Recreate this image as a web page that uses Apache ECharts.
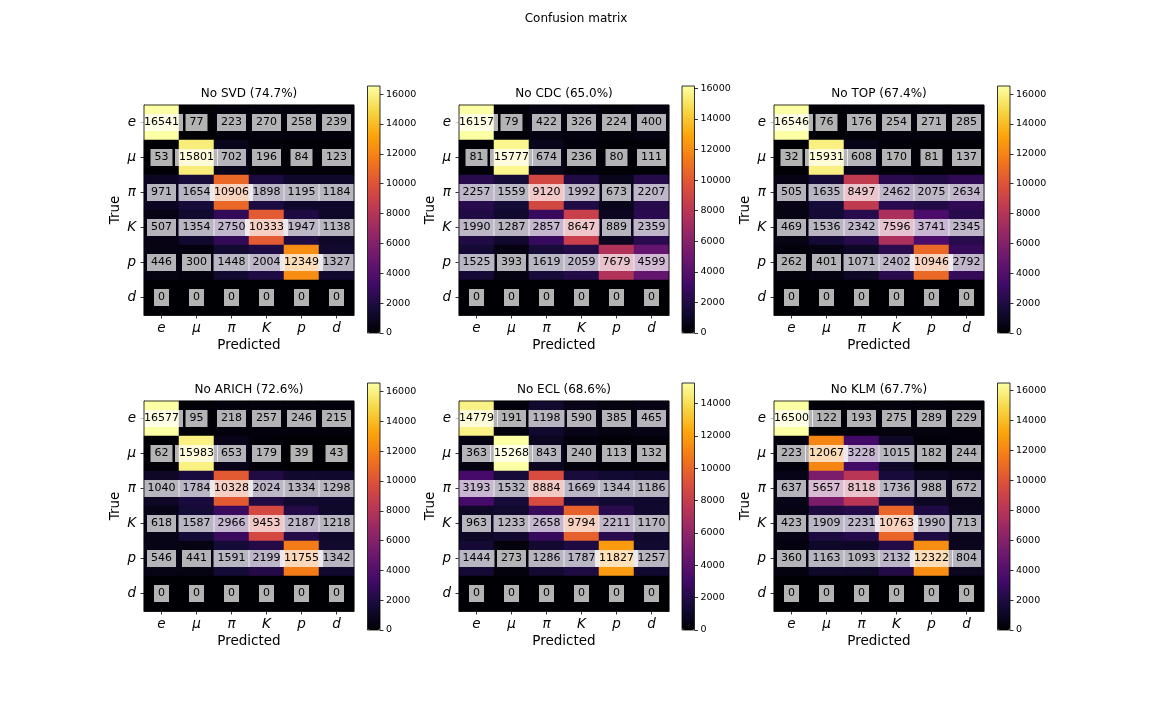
<!DOCTYPE html>
<html><head><meta charset="utf-8">
<script src="https://cdn.jsdelivr.net/npm/echarts@6/dist/echarts.min.js"></script>
<style>html,body{margin:0;padding:0;background:#fff}#c{width:1152px;height:720px}</style>
</head><body><div id="c"></div>
<script>
const classes = ['e', 'μ', 'π', 'K', 'p', 'd'];
const panelTitles = ['No SVD (74.7%)', 'No CDC (65.0%)', 'No TOP (67.4%)', 'No ARICH (72.6%)', 'No ECL (68.6%)', 'No KLM (67.7%)'];

const noSVD = [
  [16541, 77, 223, 270, 258, 239],
  [53, 15801, 702, 196, 84, 123],
  [971, 1654, 10906, 1898, 1195, 1184],
  [507, 1354, 2750, 10333, 1947, 1138],
  [446, 300, 1448, 2004, 12349, 1327],
  [0, 0, 0, 0, 0, 0]
];
const noCDC = [
  [16157, 79, 422, 326, 224, 400],
  [81, 15777, 674, 236, 80, 111],
  [2257, 1559, 9120, 1992, 673, 2207],
  [1990, 1287, 2857, 8647, 889, 2359],
  [1525, 393, 1619, 2059, 7679, 4599],
  [0, 0, 0, 0, 0, 0]
];
const noTOP = [
  [16546, 76, 176, 254, 271, 285],
  [32, 15931, 608, 170, 81, 137],
  [505, 1635, 8497, 2462, 2075, 2634],
  [469, 1536, 2342, 7596, 3741, 2345],
  [262, 401, 1071, 2402, 10946, 2792],
  [0, 0, 0, 0, 0, 0]
];
const noARICH = [
  [16577, 95, 218, 257, 246, 215],
  [62, 15983, 653, 179, 39, 43],
  [1040, 1784, 10328, 2024, 1334, 1298],
  [618, 1587, 2966, 9453, 2187, 1218],
  [546, 441, 1591, 2199, 11755, 1342],
  [0, 0, 0, 0, 0, 0]
];
const noECL = [
  [14779, 191, 1198, 590, 385, 465],
  [363, 15268, 843, 240, 113, 132],
  [3193, 1532, 8884, 1669, 1344, 1186],
  [963, 1233, 2658, 9794, 2211, 1170],
  [1444, 273, 1286, 1787, 11827, 1257],
  [0, 0, 0, 0, 0, 0]
];
const noKLM = [
  [16500, 122, 193, 275, 289, 229],
  [223, 12067, 3228, 1015, 182, 244],
  [637, 5657, 8118, 1736, 988, 672],
  [423, 1909, 2231, 10763, 1990, 713],
  [360, 1163, 1093, 2132, 12322, 804],
  [0, 0, 0, 0, 0, 0]
];
const matrices = [noSVD, noCDC, noTOP, noARICH, noECL, noKLM];
const colorbarStep = 2000;

const inferno = ['#000004', '#160b39', '#420a68', '#6a176e', '#932667', '#bc3754',
  '#dd513a', '#f37819', '#fca50a', '#f6d746', '#fcffa4'];

const FONT = 'DejaVu Sans';
const hmLeft = [144, 459, 774], hmTop = [105, 401], hmSize = 210;
const cbLeft = [367.5, 682, 997.5], cbTop = [86, 383], cbW = 12.5, cbH = 247;

const grid = [], xAxis = [], yAxis = [], series = [], visualMap = [];
const title = [{
  text: 'Confusion matrix', left: 576, top: 13, textAlign: 'center', padding: 0,
  textStyle: { fontFamily: FONT, fontSize: 12, fontWeight: 'normal', color: '#000' }
}];

function matMax(m) {
  let maxV = 0;
  m.forEach(r => r.forEach(v => { if (v > maxV) maxV = v; }));
  return maxV;
}

matrices.forEach((m, i) => {
  const col = i % 3, row = Math.floor(i / 3);
  const maxV = matMax(m);

  grid.push({
    left: hmLeft[col], top: hmTop[row], width: hmSize, height: hmSize,
    show: true, borderColor: '#000', borderWidth: 0.8, backgroundColor: 'transparent', z: 10,
    outerBoundsMode: 'none'
  });
  grid.push({
    left: cbLeft[col], top: cbTop[row], width: cbW, height: cbH,
    show: true, borderColor: '#000', borderWidth: 0.8, backgroundColor: 'transparent', z: 10,
    outerBoundsMode: 'none'
  });
  title.push({
    text: panelTitles[i], left: hmLeft[col] + hmSize / 2, top: hmTop[row] - 17,
    textAlign: 'center', padding: 0,
    textStyle: { fontFamily: FONT, fontSize: 12, fontWeight: 'normal', color: '#000' }
  });
  const data = [];
  m.forEach((r, ri) => r.forEach((v, ci) => data.push([ci, ri, v])));
  series.push({
    type: 'heatmap', xAxisIndex: i, yAxisIndex: i, data: data,
    label: {
      show: true, formatter: p => String(p.value[2]),
      fontFamily: FONT, fontSize: 11, color: '#000',
      backgroundColor: 'rgba(255,255,255,0.7)', padding: [3, 4, 3, 4]
    },
    itemStyle: { borderWidth: 0 },
    emphasis: { disabled: true }
  });
  visualMap.push({
    type: 'continuous', seriesIndex: i, dimension: 2, min: 0, max: maxV,
    left: cbLeft[col], top: cbTop[row], itemWidth: cbW, itemHeight: cbH,
    padding: 0, calculable: false, hoverLink: false, realtime: false,
    inRange: { color: inferno }
  });
});

// heatmap axes: indices 0..5 on grids 0,2,4,...
matrices.forEach((m, i) => {
  xAxis.push({
    type: 'category', gridIndex: 2 * i, data: classes, position: 'bottom',
    name: 'Predicted', nameLocation: 'middle', nameGap: 23.5,
    nameTextStyle: { fontFamily: FONT, fontSize: 13.5, color: '#000' },
    axisLine: { show: true, lineStyle: { color: '#000', width: 0.8 } },
    axisTick: { show: true, alignWithLabel: true, length: 3.5, lineStyle: { color: '#000', width: 0.8 } },
    axisLabel: { fontFamily: FONT, fontSize: 13.5, fontStyle: 'italic', color: '#000', margin: 6 },
    splitLine: { show: false }, splitArea: { show: false }
  });
  yAxis.push({
    type: 'category', gridIndex: 2 * i, data: classes, inverse: true, position: 'left',
    name: 'True', nameLocation: 'middle', nameGap: 22, nameRotate: 90,
    nameTextStyle: { fontFamily: FONT, fontSize: 13.5, color: '#000' },
    axisLine: { show: true, lineStyle: { color: '#000', width: 0.8 } },
    axisTick: { show: true, alignWithLabel: true, length: 3.5, lineStyle: { color: '#000', width: 0.8 } },
    axisLabel: { fontFamily: FONT, fontSize: 13.5, fontStyle: 'italic', color: '#000', margin: 8 },
    splitLine: { show: false }, splitArea: { show: false }
  });
});

// colorbar axes: indices 6..11 on grids 1,3,5,...
matrices.forEach((m, i) => {
  const maxV = matMax(m);
  const ticks = [];
  for (let t = 0; t <= maxV; t += colorbarStep) ticks.push(t);
  xAxis.push({ type: 'category', gridIndex: 2 * i + 1, data: [''], show: false });
  yAxis.push({
    type: 'value', gridIndex: 2 * i + 1, min: 0, max: maxV, position: 'right',
    axisLine: { show: false },
    axisTick: { show: true, length: 3.5, customValues: ticks, lineStyle: { color: '#000', width: 0.8 } },
    axisLabel: { fontFamily: FONT, fontSize: 9.5, color: '#000', margin: 6, customValues: ticks,
      formatter: v => String(v) },
    splitLine: { show: false }
  });
});

const chart = echarts.init(document.getElementById('c'), null, { renderer: 'canvas' });
chart.setOption({
  animation: false,
  backgroundColor: '#fff',
  title: title, grid: grid, xAxis: xAxis, yAxis: yAxis, visualMap: visualMap, series: series
});
</script></body></html>
